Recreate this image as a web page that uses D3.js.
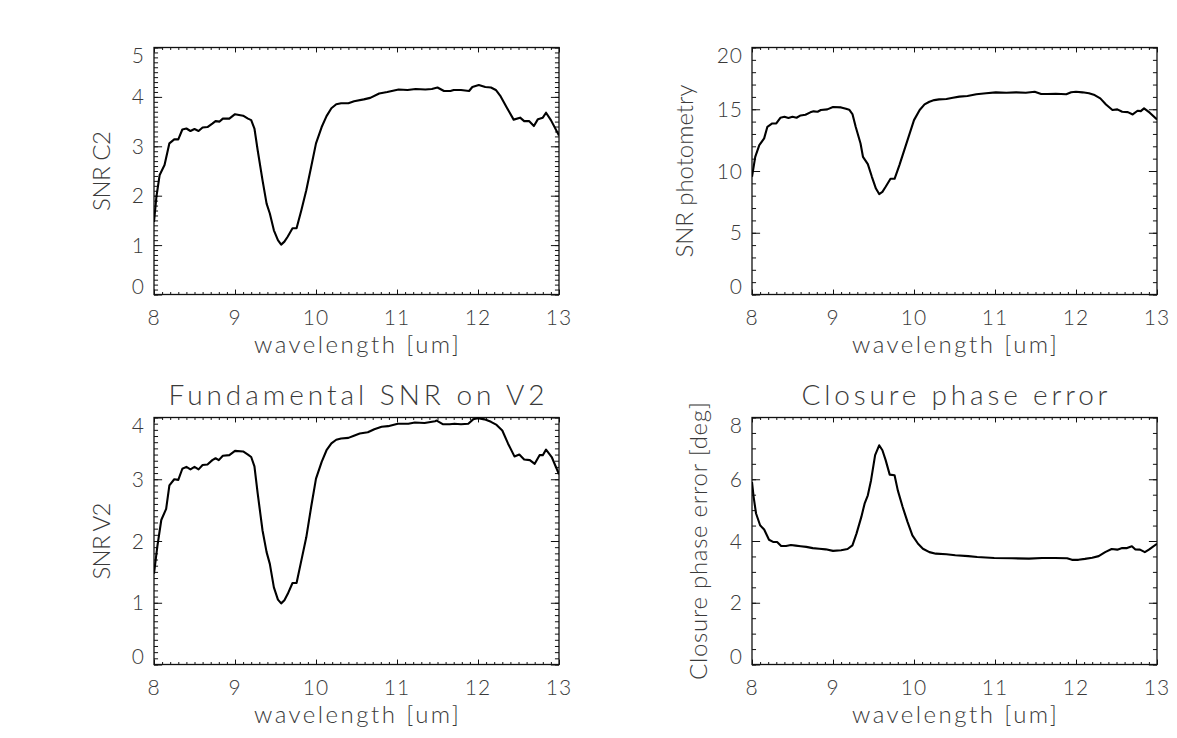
<!DOCTYPE html>
<html>
<head>
<meta charset="utf-8">
<script src="https://cdn.jsdelivr.net/npm/d3@7"></script>
<style>
  html, body { margin: 0; padding: 0; background: #fff; }
  svg text { font-family: Lato, "Open Sans", "DejaVu Sans", sans-serif; font-weight: 300; fill: #3a3a3a; }
</style>
</head>
<body>
<svg id="chart" width="1177" height="738"></svg>
<script>
// ---- Wavelength axis (um) ----
const waveDomain = [8, 13];
const waveTickLabels = ["8", "9", "10", "11", "12", "13"];

// ---- SNR on closure amplitude (C2) ----
const c2Wave = [8.00, 8.03, 8.07, 8.13, 8.19, 8.25, 8.30, 8.35, 8.40, 8.45, 8.50, 8.55, 8.60, 8.66, 8.72, 8.76, 8.81, 8.85, 8.93, 9.00,
  9.10, 9.16, 9.20, 9.24, 9.28, 9.34, 9.39, 9.43, 9.48, 9.53, 9.57, 9.61, 9.65, 9.71, 9.76, 9.82, 9.88, 9.94, 10.00, 10.07,
  10.13, 10.19, 10.25, 10.31, 10.40, 10.47, 10.59, 10.67, 10.78, 10.88, 11.02, 11.13, 11.23, 11.35, 11.43, 11.50, 11.58, 11.66, 11.70, 11.79,
  11.89, 11.93, 12.01, 12.09, 12.16, 12.22, 12.28, 12.36, 12.44, 12.52, 12.57, 12.63, 12.69, 12.74, 12.80, 12.84, 12.90, 13.00];
const c2Snr = [1.47, 1.98, 2.42, 2.62, 3.06, 3.14, 3.14, 3.34, 3.36, 3.31, 3.35, 3.31, 3.38, 3.39, 3.46, 3.51, 3.50, 3.56, 3.56, 3.65,
  3.62, 3.56, 3.53, 3.36, 2.92, 2.31, 1.84, 1.64, 1.30, 1.10, 1.01, 1.07, 1.17, 1.34, 1.34, 1.71, 2.11, 2.58, 3.06, 3.39,
  3.61, 3.77, 3.85, 3.87, 3.87, 3.91, 3.95, 3.98, 4.07, 4.10, 4.15, 4.14, 4.16, 4.15, 4.16, 4.19, 4.12, 4.12, 4.14, 4.14,
  4.12, 4.20, 4.24, 4.20, 4.19, 4.14, 4.01, 3.77, 3.54, 3.58, 3.51, 3.51, 3.41, 3.55, 3.58, 3.68, 3.53, 3.22];
const c2Ticks = ["0", "1", "2", "3", "4", "5"];

// ---- SNR on photometry ----
const photWave = [8.00, 8.04, 8.09, 8.15, 8.19, 8.25, 8.30, 8.35, 8.40, 8.45, 8.50, 8.55, 8.60, 8.66, 8.72, 8.76, 8.81, 8.85, 8.93, 9.00,
  9.10, 9.16, 9.20, 9.24, 9.28, 9.34, 9.37, 9.43, 9.48, 9.53, 9.57, 9.61, 9.65, 9.71, 9.76, 9.82, 9.88, 9.94, 10.00, 10.07,
  10.13, 10.19, 10.25, 10.31, 10.40, 10.48, 10.56, 10.66, 10.77, 10.89, 11.01, 11.14, 11.26, 11.38, 11.49, 11.57, 11.65, 11.75, 11.88, 11.94,
  12.00, 12.08, 12.16, 12.23, 12.30, 12.37, 12.45, 12.51, 12.57, 12.64, 12.70, 12.76, 12.80, 12.84, 12.91, 13.00];
const photSnr = [9.53, 11.15, 12.10, 12.64, 13.58, 13.85, 13.85, 14.31, 14.39, 14.29, 14.39, 14.31, 14.50, 14.56, 14.75, 14.83, 14.80, 14.94, 14.99, 15.18,
  15.15, 15.04, 14.96, 14.61, 13.58, 12.23, 11.15, 10.56, 9.53, 8.58, 8.13, 8.31, 8.72, 9.37, 9.37, 10.48, 11.69, 12.91, 14.12, 14.94,
  15.39, 15.61, 15.74, 15.80, 15.83, 15.93, 16.02, 16.07, 16.21, 16.29, 16.37, 16.34, 16.37, 16.34, 16.42, 16.23, 16.23, 16.26, 16.21, 16.37,
  16.42, 16.37, 16.29, 16.15, 15.88, 15.39, 14.94, 14.99, 14.80, 14.77, 14.58, 14.88, 14.85, 15.07, 14.72, 14.18];
const photTicks = ["0", "5", "10", "15", "20"];

// ---- Fundamental SNR on squared visibility (V2) ----
const v2Wave = [8.00, 8.04, 8.09, 8.15, 8.19, 8.25, 8.30, 8.35, 8.40, 8.45, 8.50, 8.55, 8.60, 8.66, 8.72, 8.76, 8.80, 8.85, 8.93, 9.00,
  9.10, 9.16, 9.20, 9.24, 9.28, 9.34, 9.39, 9.43, 9.48, 9.53, 9.57, 9.61, 9.65, 9.71, 9.76, 9.82, 9.88, 9.94, 10.00, 10.07,
  10.13, 10.19, 10.25, 10.31, 10.40, 10.46, 10.54, 10.64, 10.72, 10.81, 10.89, 11.01, 11.14, 11.22, 11.34, 11.47, 11.49, 11.57, 11.65, 11.71,
  11.79, 11.88, 11.94, 12.00, 12.08, 12.16, 12.23, 12.30, 12.37, 12.45, 12.51, 12.57, 12.64, 12.70, 12.76, 12.80, 12.84, 12.91, 13.00];
const v2Snr = [1.47, 1.90, 2.34, 2.52, 2.90, 3.00, 2.99, 3.17, 3.20, 3.16, 3.20, 3.16, 3.23, 3.24, 3.31, 3.34, 3.31, 3.38, 3.39, 3.46,
  3.45, 3.40, 3.36, 3.21, 2.77, 2.17, 1.82, 1.63, 1.25, 1.05, 0.99, 1.04, 1.14, 1.32, 1.32, 1.69, 2.06, 2.55, 3.01, 3.28,
  3.47, 3.58, 3.64, 3.66, 3.67, 3.70, 3.74, 3.76, 3.81, 3.85, 3.86, 3.90, 3.90, 3.92, 3.91, 3.94, 3.95, 3.89, 3.89, 3.90,
  3.89, 3.90, 3.97, 3.99, 3.97, 3.93, 3.88, 3.79, 3.58, 3.37, 3.40, 3.32, 3.31, 3.25, 3.39, 3.39, 3.48, 3.36, 3.08];
const v2Ticks = ["0", "1", "2", "3", "4"];

// ---- Closure phase error (deg) ----
const cpWave = [8.00, 8.02, 8.05, 8.10, 8.15, 8.21, 8.26, 8.31, 8.36, 8.42, 8.48, 8.54, 8.60, 8.67, 8.75, 8.83, 8.91, 9.00, 9.10, 9.18,
  9.24, 9.29, 9.35, 9.39, 9.43, 9.47, 9.52, 9.57, 9.61, 9.65, 9.70, 9.76, 9.80, 9.86, 9.92, 9.98, 10.05, 10.11, 10.19, 10.27,
  10.40, 10.51, 10.67, 10.78, 10.99, 11.21, 11.42, 11.58, 11.74, 11.89, 11.95, 12.03, 12.11, 12.20, 12.28, 12.36, 12.44, 12.51, 12.57, 12.63,
  12.69, 12.73, 12.79, 12.85, 12.90, 13.00];
const cpErr = [5.91, 5.43, 4.89, 4.51, 4.37, 4.04, 3.97, 3.97, 3.84, 3.84, 3.87, 3.85, 3.83, 3.81, 3.77, 3.75, 3.73, 3.68, 3.70, 3.74,
  3.86, 4.24, 4.78, 5.21, 5.48, 5.97, 6.78, 7.10, 6.94, 6.62, 6.15, 6.13, 5.64, 5.10, 4.62, 4.18, 3.91, 3.75, 3.64, 3.59,
  3.57, 3.54, 3.51, 3.48, 3.45, 3.44, 3.43, 3.45, 3.45, 3.44, 3.39, 3.39, 3.42, 3.46, 3.51, 3.64, 3.74, 3.72, 3.77, 3.77,
  3.83, 3.73, 3.72, 3.64, 3.72, 3.91];
const cpTicks = ["0", "2", "4", "6", "8"];

// ---- Panel layout ----
const panels = [
  { wave: c2Wave, vals: c2Snr, yTicks: c2Ticks, yMax: 5, yMinorStep: 0.1,
    left: 154, top: 47.5, yTitle: "SNR C2", yTitleLen: 80, yTitleX: 110, title: null },
  { wave: photWave, vals: photSnr, yTicks: photTicks, yMax: 20, yMinorStep: 1,
    left: 752, top: 47.5, yTitle: "SNR photometry", yTitleLen: 173, yTitleX: 693, title: null },
  { wave: v2Wave, vals: v2Snr, yTicks: v2Ticks, yMax: 4, yMinorStep: 0.1,
    left: 154, top: 417.5, yTitle: "SNR V2", yTitleLen: 77, yTitleX: 110,
    title: "Fundamental SNR on V2", titleLen: 376 },
  { wave: cpWave, vals: cpErr, yTicks: cpTicks, yMax: 8, yMinorStep: 0.5,
    left: 752, top: 417.5, yTitle: "Closure phase error [deg]", yTitleLen: 278, yTitleX: 707,
    title: "Closure phase error", titleLen: 306 }
];

const W = 405, H = 247;
const tickFont = 21, labelFont = 24, titleFont = 28;
const svg = d3.select("#chart");

panels.forEach((p, i) => {
  const g = svg.append("g").attr("transform", `translate(${p.left},${p.top})`);
  const x = d3.scaleLinear().domain(waveDomain).range([0, W]);
  const y = d3.scaleLinear().domain([0, p.yMax]).range([H, 0]);

  const xMajor = waveTickLabels.map(Number);
  const xMinor = d3.range(0, 51).map(k => 8 + k / 10);
  const yMajor = p.yTicks.map(Number);
  const nMinor = Math.round(p.yMax / p.yMinorStep);
  const yMinor = d3.range(0, nMinor + 1).map(k => k * p.yMinorStep);

  // tick lengths scale with the box like IDL's ticklen
  const xMajLen = 0.02 * H, xMinLen = 0.01 * H;
  const yMajLen = 0.02 * W, yMinLen = 0.01 * W;

  const tickAxis = (axisFn, scale, values, len, tx, ty) => {
    const a = g.append("g").attr("transform", `translate(${tx},${ty})`)
      .call(axisFn(scale).tickValues(values).tickSize(-len).tickFormat(""));
    a.select(".domain").remove();
    a.selectAll("line").attr("stroke", "#111").attr("stroke-width", 1);
  };
  // inward ticks on all four sides
  tickAxis(d3.axisBottom, x, xMinor, xMinLen, 0, H);
  tickAxis(d3.axisBottom, x, xMajor, xMajLen, 0, H);
  tickAxis(d3.axisTop, x, xMinor, xMinLen, 0, 0);
  tickAxis(d3.axisTop, x, xMajor, xMajLen, 0, 0);
  tickAxis(d3.axisLeft, y, yMinor, yMinLen, 0, 0);
  tickAxis(d3.axisLeft, y, yMajor, yMajLen, 0, 0);
  tickAxis(d3.axisRight, y, yMinor, yMinLen, W, 0);
  tickAxis(d3.axisRight, y, yMajor, yMajLen, W, 0);

  // frame
  g.append("rect").attr("x", 0).attr("y", 0).attr("width", W).attr("height", H)
    .attr("fill", "none").attr("stroke", "#111").attr("stroke-width", 1.3);

  // data curve
  const clipId = "clip" + i;
  g.append("clipPath").attr("id", clipId).append("rect")
    .attr("x", 0).attr("y", -1).attr("width", W).attr("height", H + 1);
  const pts = p.wave.map((w, k) => [w, p.vals[k]]);
  g.append("path").datum(pts)
    .attr("clip-path", `url(#${clipId})`)
    .attr("fill", "none").attr("stroke", "#000").attr("stroke-width", 2.1)
    .attr("stroke-linejoin", "round")
    .attr("d", d3.line().x(d => x(d[0])).y(d => y(d[1])));

  // x tick labels
  g.selectAll(".xl").data(waveTickLabels).join("text")
    .attr("x", d => x(+d)).attr("y", H + 30)
    .attr("text-anchor", "middle").style("font-size", tickFont + "px")
    .style("letter-spacing", "1px").text(d => d);

  // y tick labels (end labels kept inside the frame height)
  const half = 8;
  g.selectAll(".yl").data(p.yTicks).join("text")
    .attr("x", -9)
    .attr("y", d => Math.min(H - half, Math.max(half, y(+d))))
    .attr("dy", "0.36em")
    .attr("text-anchor", "end").style("font-size", tickFont + "px")
    .style("letter-spacing", "1px").text(d => d);

  // x title
  g.append("text").attr("x", W / 2).attr("y", H + 58.5)
    .attr("text-anchor", "middle").style("font-size", labelFont + "px")
    .attr("textLength", 205).attr("lengthAdjust", "spacing")
    .text("wavelength [um]");

  // y title
  g.append("text")
    .attr("transform", `translate(${p.yTitleX - p.left},${H / 2}) rotate(-90)`)
    .attr("text-anchor", "middle").style("font-size", labelFont + "px")
    .attr("textLength", p.yTitleLen).attr("lengthAdjust", "spacing")
    .text(p.yTitle);

  // panel title
  if (p.title) {
    g.append("text").attr("x", W / 2).attr("y", -12.5)
      .attr("text-anchor", "middle").style("font-size", titleFont + "px")
      .attr("textLength", p.titleLen).attr("lengthAdjust", "spacing")
      .text(p.title);
  }
});
</script>
</body>
</html>
